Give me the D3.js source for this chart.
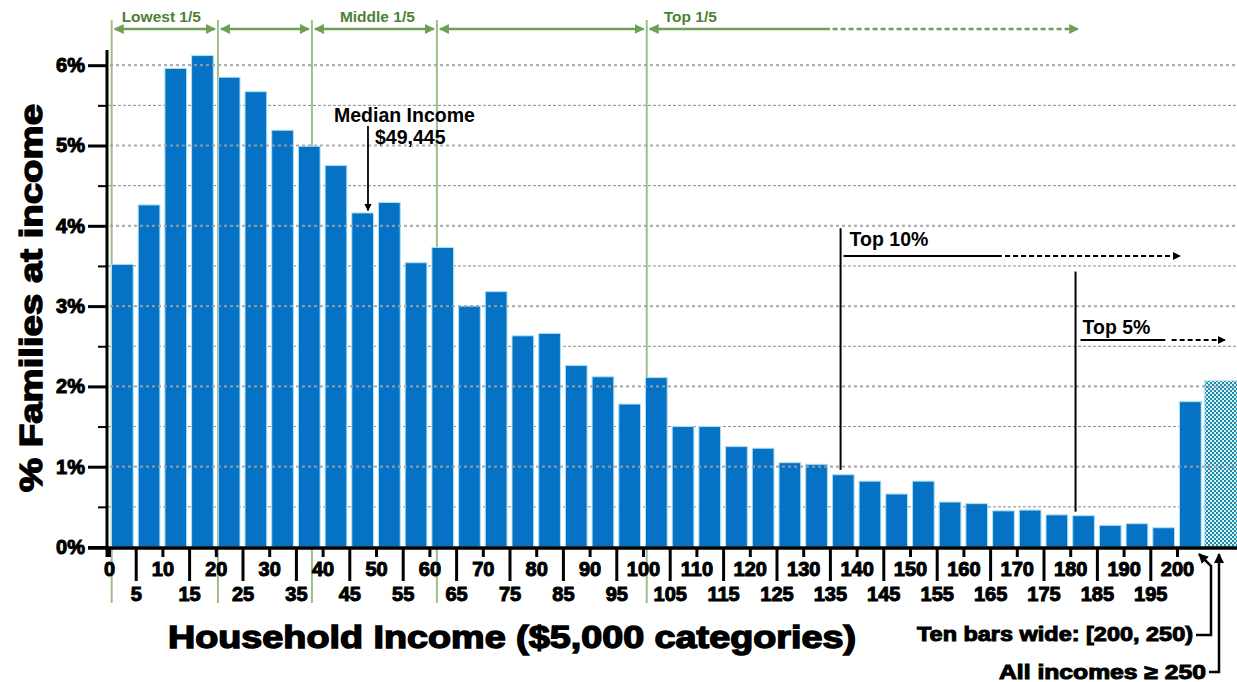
<!DOCTYPE html>
<html lang="en">
<head>
<meta charset="utf-8">
<title>Household income distribution</title>
<script src="https://d3js.org/d3.v7.min.js"></script>
<style type="text/css">
  body { margin: 0; background: #fff; }
  text { font-family: "Liberation Sans", Arial, sans-serif; font-weight: bold; }
</style>
</head>
<body>
<svg width="1237" height="682" id="chart"></svg>
<script>
  // lower bound of each $5,000 bracket (in $1,000), last one is the [200,250) bar
  var brackets = [0, 5, 10, 15, 20, 25, 30, 35, 40, 45, 50, 55, 60, 65, 70, 75, 80, 85, 90, 95,
                  100, 105, 110, 115, 120, 125, 130, 135, 140, 145, 150, 155, 160, 165, 170, 175,
                  180, 185, 190, 195, 200];
  // % of families in each bracket
  var shares = [3.52, 4.26, 5.96, 6.12, 5.85, 5.67, 5.19, 4.99, 4.75, 4.16, 4.29, 3.54, 3.73, 3.00,
                3.18, 2.63, 2.66, 2.26, 2.12, 1.78, 2.11, 1.50, 1.50, 1.25, 1.23, 1.05, 1.03, 0.90,
                0.82, 0.66, 0.82, 0.56, 0.54, 0.45, 0.46, 0.40, 0.39, 0.27, 0.29, 0.24, 1.81];
  var topBracket = {from: 205, share: 2.07};   // all incomes >= 250
  var xTicks = brackets;
  var yTicks = [0, 1, 2, 3, 4, 5, 6];
  var yHalfTicks = [0.5, 1.5, 2.5, 3.5, 4.5, 5.5];
  var quintileLines = [0.5, 20.4, 38.0, 61.4, 100.7];
  var quintileLabels = ["Lowest 1/5", "", "Middle 1/5", "", "Top 1/5"];
  var medianAt = 48.5, top10At = 137, top5At = 181;

  var svg = d3.select("#chart");
  var W = +svg.attr("width");
  var x = d3.scaleLinear().domain([0, 200]).range([109, 1177]);
  var y = d3.scaleLinear().domain([0, 6]).range([547, 65.2]);
  var green = "#6f9f55", greenLight = "#9cbf88", greenText = "#4d7f35";

  var defs = svg.append("defs");
  function marker(id, color) {
    defs.append("marker").attr("id", id).attr("viewBox", "0 0 10 10").attr("refX", 9).attr("refY", 5)
      .attr("markerWidth", 4).attr("markerHeight", 4).attr("orient", "auto-start-reverse")
      .append("path").attr("d", "M0,0 L10,5 L0,10 z").attr("fill", color);
  }
  marker("ag", green);
  marker("ak", "#000");
  var pat = defs.append("pattern").attr("id", "checker").attr("width", 4).attr("height", 4)
    .attr("patternUnits", "userSpaceOnUse");
  pat.append("rect").attr("width", 4).attr("height", 4).attr("fill", "#d6f1f6");
  pat.append("rect").attr("width", 2).attr("height", 2).attr("fill", "#1d8aa6");
  pat.append("rect").attr("x", 2).attr("y", 2).attr("width", 2).attr("height", 2).attr("fill", "#1d8aa6");

  // half-percent gridlines (behind bars)
  svg.append("g").selectAll("line").data(yHalfTicks).enter().append("line")
    .attr("x1", 108).attr("x2", W).attr("y1", d => y(d)).attr("y2", d => y(d))
    .attr("stroke", "#8a8a8a").attr("stroke-width", 1).attr("stroke-dasharray", "3,2");

  // green quintile verticals
  svg.append("g").selectAll("line").data(quintileLines).enter().append("line")
    .attr("x1", d => x(d)).attr("x2", d => x(d)).attr("y1", 20).attr("y2", 603)
    .attr("stroke", greenLight).attr("stroke-width", 2);

  // bars
  var bw = x(5) - x(0);
  svg.append("g").selectAll("rect").data(brackets).enter().append("rect")
    .attr("x", d => x(d) + 2.5).attr("width", bw - 5)
    .attr("y", (d, i) => y(shares[i])).attr("height", (d, i) => y(0) - y(shares[i]))
    .attr("fill", "#0672c6").attr("stroke", "#a9e2f2").attr("stroke-width", 1);
  svg.append("rect").attr("x", x(topBracket.from) + 1).attr("width", bw * 1.5)
    .attr("y", y(topBracket.share)).attr("height", y(0) - y(topBracket.share))
    .attr("fill", "url(#checker)").attr("stroke", "#a9e2f2").attr("stroke-width", 1);

  // whole-percent dotted gridlines (drawn over bars)
  svg.append("g").selectAll("line").data(yTicks.slice(1)).enter().append("line")
    .attr("x1", 110).attr("x2", W).attr("y1", d => y(d)).attr("y2", d => y(d))
    .attr("stroke", "#a0a0a8").attr("stroke-width", 2.2).attr("stroke-dasharray", "3,3")
    .attr("opacity", 0.85);

  // y axis
  var yAxis = svg.append("g").attr("transform", "translate(108,0)")
    .call(d3.axisLeft(y).tickValues(yTicks).tickSize(20).tickPadding(3).tickFormat(d => d + "%"));
  yAxis.select(".domain").remove();
  yAxis.selectAll("line").attr("stroke", "#000").attr("stroke-width", 3);
  yAxis.selectAll("text").attr("font-size", 20).attr("fill", "#000")
    .attr("stroke", "#000").attr("stroke-width", 1);
  var yMinor = svg.append("g").attr("transform", "translate(108,0)")
    .call(d3.axisLeft(y).tickValues(yHalfTicks).tickSize(10).tickFormat(""));
  yMinor.select(".domain").remove();
  yMinor.selectAll("line").attr("stroke", "#000").attr("stroke-width", 2);
  svg.append("line").attr("x1", 107).attr("x2", 107).attr("y1", 50).attr("y2", 557)
    .attr("stroke", "#000").attr("stroke-width", 3);

  // x axis
  var xAxis = svg.append("g").attr("transform", "translate(0,548)")
    .call(d3.axisBottom(x).tickValues(xTicks).tickSize(8).tickPadding(0));
  xAxis.select(".domain").remove();
  xAxis.selectAll(".tick").each(function(d, i) {
    var odd = i % 2 === 1;
    var t = d3.select(this);
    t.select("line").attr("y2", odd ? 33 : 9).attr("stroke", "#000").attr("stroke-width", 3);
    t.select("text").attr("dy", 0).attr("y", odd ? 53 : 28).attr("font-size", 20).attr("fill", "#000")
      .attr("stroke", "#000").attr("stroke-width", 1);
  });
  svg.append("line").attr("x1", 88).attr("x2", W).attr("y1", 548).attr("y2", 548)
    .attr("stroke", "#000").attr("stroke-width", 3.5);

  // axis titles
  svg.append("text").attr("x", 512).attr("y", 648).attr("text-anchor", "middle")
    .attr("font-size", 31).attr("textLength", 688).attr("lengthAdjust", "spacingAndGlyphs")
    .attr("stroke", "#000").attr("stroke-width", 1.4)
    .text("Household Income ($5,000 categories)");
  svg.append("text").attr("transform", "translate(42,298) rotate(-90)").attr("text-anchor", "middle")
    .attr("font-size", 31).attr("textLength", 388).attr("lengthAdjust", "spacingAndGlyphs")
    .attr("stroke", "#000").attr("stroke-width", 1.4)
    .text("% Families at income");

  // quintile arrows
  var qg = svg.append("g");
  for (var i = 0; i < quintileLines.length - 1; i++) {
    qg.append("line").attr("x1", x(quintileLines[i]) + 3).attr("x2", x(quintileLines[i + 1]) - 3)
      .attr("y1", 29).attr("y2", 29).attr("stroke", green).attr("stroke-width", 2.5)
      .attr("marker-start", "url(#ag)").attr("marker-end", "url(#ag)");
  }
  qg.append("line").attr("x1", x(100.7) + 3).attr("x2", x(135)).attr("y1", 29).attr("y2", 29)
    .attr("stroke", green).attr("stroke-width", 2.5).attr("marker-start", "url(#ag)");
  qg.append("line").attr("x1", x(135.5)).attr("x2", x(181.5)).attr("y1", 29).attr("y2", 29)
    .attr("stroke", green).attr("stroke-width", 2.5).attr("stroke-dasharray", "5,3")
    .attr("marker-end", "url(#ag)");
  qg.selectAll("text").data(quintileLabels).enter().append("text")
    .attr("x", (d, i) => x(quintileLines[i]) + (i === 4 ? 17 : 0))
    .attr("dx", (d, i) => i === 0 ? 10 : (i === 2 ? 28 : 0))
    .attr("y", 22).attr("font-size", 15.5).attr("fill", greenText).text(d => d);

  // median annotation
  var ann = svg.append("g");
  ann.append("text").attr("x", 334).attr("y", 122).attr("font-size", 19.5).text("Median Income");
  ann.append("text").attr("x", 375).attr("y", 144).attr("font-size", 19.5).text("$49,445");
  ann.append("line").attr("x1", x(medianAt)).attr("x2", x(medianAt)).attr("y1", 126).attr("y2", y(4.19))
    .attr("stroke", "#000").attr("stroke-width", 1.8).attr("marker-end", "url(#ak)");

  // top 10%
  ann.append("line").attr("x1", x(top10At)).attr("x2", x(top10At)).attr("y1", y(3.97)).attr("y2", y(0.96))
    .attr("stroke", "#000").attr("stroke-width", 2);
  ann.append("text").attr("x", x(top10At) + 9).attr("y", y(3.83) + 7).attr("font-size", 19.5).text("Top 10%");
  ann.append("line").attr("x1", x(top10At) + 3).attr("x2", x(167.2)).attr("y1", 256).attr("y2", 256)
    .attr("stroke", "#000").attr("stroke-width", 2);
  ann.append("line").attr("x1", x(167.8)).attr("x2", x(200.6)).attr("y1", 256).attr("y2", 256)
    .attr("stroke", "#000").attr("stroke-width", 2).attr("stroke-dasharray", "5,3")
    .attr("marker-end", "url(#ak)");

  // top 5%
  ann.append("line").attr("x1", x(top5At)).attr("x2", x(top5At)).attr("y1", y(3.43)).attr("y2", y(0.44))
    .attr("stroke", "#000").attr("stroke-width", 2);
  ann.append("text").attr("x", x(top5At) + 7).attr("y", 334).attr("font-size", 19.5).text("Top 5%");
  ann.append("line").attr("x1", x(top5At) + 5).attr("x2", x(197.8)).attr("y1", 340).attr("y2", 340)
    .attr("stroke", "#000").attr("stroke-width", 2);
  ann.append("line").attr("x1", x(199)).attr("x2", x(209)).attr("y1", 340).attr("y2", 340)
    .attr("stroke", "#000").attr("stroke-width", 2).attr("stroke-dasharray", "5,3")
    .attr("marker-end", "url(#ak)");

  // bottom-right callouts
  ann.append("text").attr("x", 1193).attr("y", 641).attr("text-anchor", "end").attr("font-size", 20)
    .attr("textLength", 276).attr("lengthAdjust", "spacingAndGlyphs")
    .attr("stroke", "#000").attr("stroke-width", 1).text("Ten bars wide: [200, 250)");
  ann.append("path").attr("d", "M1196,635 H1211 V566 L1199,554").attr("fill", "none")
    .attr("stroke", "#000").attr("stroke-width", 2.5).attr("marker-end", "url(#ak)");
  ann.append("text").attr("x", 1206).attr("y", 679).attr("text-anchor", "end").attr("font-size", 20)
    .attr("textLength", 207).attr("lengthAdjust", "spacingAndGlyphs")
    .attr("stroke", "#000").attr("stroke-width", 1).text("All incomes \u2265 250");
  ann.append("path").attr("d", "M1209,672 H1219 V554").attr("fill", "none")
    .attr("stroke", "#000").attr("stroke-width", 2.5).attr("marker-end", "url(#ak)");
</script>
</body>
</html>
